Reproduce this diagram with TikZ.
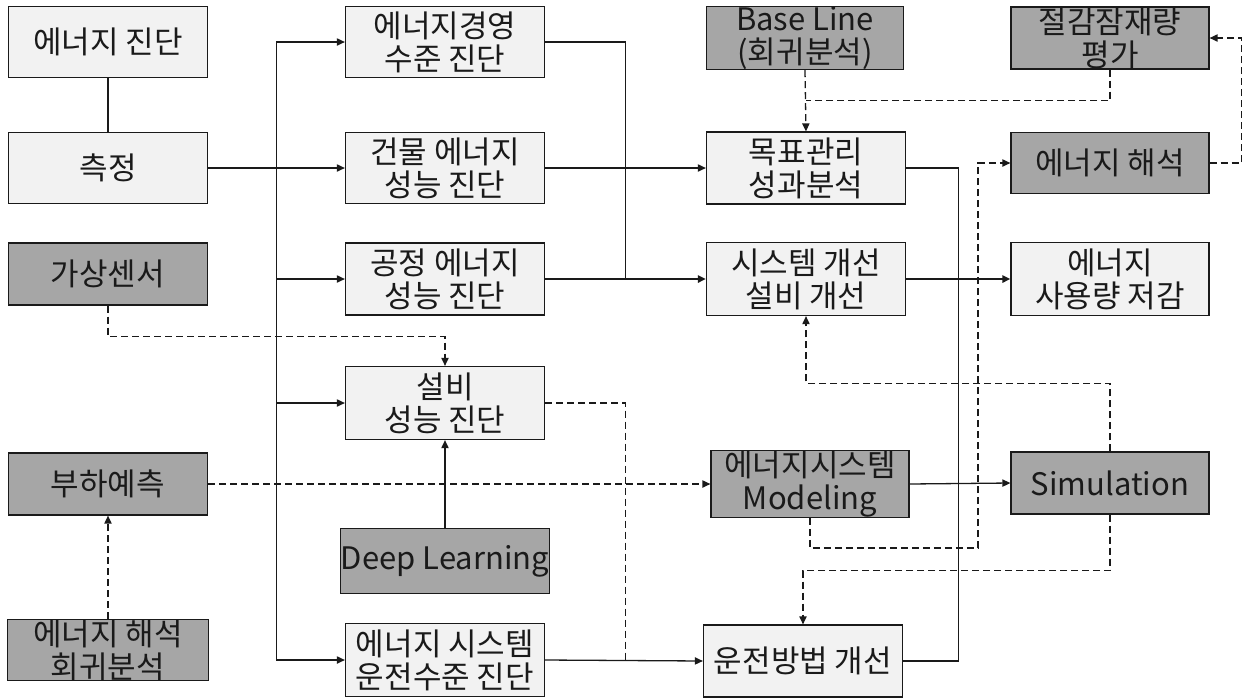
\documentclass[tikz,border=0pt]{standalone}
\usepackage{fontspec}
\setmainfont{Noto Sans CJK KR}
\usepackage{tikz}
\usetikzlibrary{arrows.meta,calc}

\definecolor{boxlight}{HTML}{F2F2F2}
\definecolor{boxdark}{HTML}{A6A6A6}
\definecolor{ink}{HTML}{1A1A1A}

\begin{document}
\begin{tikzpicture}[
  x=0.5pt, y=-0.5pt,
  font=\fontsize{15.5}{16.5}\selectfont, text=ink,
  >={Triangle[length=4pt,width=3.6pt]},
  box/.style={draw=ink, line width=0.6pt, inner sep=0pt, align=center,
              minimum width=99.5pt, minimum height=35.5pt},
  lbox/.style={box, fill=boxlight},
  dbox/.style={box, fill=boxdark},
  line/.style={draw=ink, line width=0.65pt},
  arr/.style={line, ->},
  tarr/.style={draw=ink, line width=1.3pt, ->},
  dline/.style={line, dash pattern=on 3.5pt off 2pt},
  darr/.style={dline, ->},
]
\useasboundingbox (0,0) rectangle (1250,698);

% left column
\node[lbox] (diag)  at (108,42)  {에너지 진단};
\node[lbox] (meas)  at (108,168) {측정};
\node[dbox, minimum height=31pt] (vsen) at (108,274) {가상센서};
\node[dbox, minimum height=31pt] (load) at (108,484) {부하예측};
\node[dbox, minimum height=26.5pt, minimum width=100.5pt] (regr) at (108,650) {에너지 해석\\회귀분석};

% diagnosis column
\node[lbox] (mgmt)  at (445,42)  {에너지경영\\수준 진단};
\node[lbox] (bldg)  at (445,168) {건물 에너지\\성능 진단};
\node[lbox, minimum height=36pt] (proc)  at (445,279) {공정 에너지\\성능 진단};
\node[lbox, minimum height=36.5pt] (equip) at (445,403) {설비\\성능 진단};
\node[dbox, minimum height=32.5pt] (deep) at (445,561) {Deep Learning};
\node[lbox, minimum height=36.5pt] (oper)  at (445,660) {에너지 시스템\\운전수준 진단};

% improvement column
\node[dbox, minimum height=31pt, minimum width=98.5pt] (base) at (805,38) {Base Line\\(회귀분석)};
\node[lbox, minimum height=36pt] (goal)   at (806,168) {목표관리\\성과분석};
\node[lbox, minimum height=36.5pt] (sysimp) at (806,279) {시스템 개선\\설비 개선};
\node[dbox, minimum height=31pt, minimum width=99pt] (model) at (810,484) {에너지시스템\\Modeling};
\node[lbox, minimum height=36pt] (runimp) at (803,661) {운전방법 개선};

% result column
\node[dbox, minimum height=31pt, minimum width=99pt] (save)   at (1110,38)  {절감잠재량\\평가};
\node[dbox, minimum height=30.5pt, minimum width=99pt] (anal) at (1110,163) {에너지 해석};
\node[lbox, minimum height=36.5pt, minimum width=99pt] (reduce) at (1110,279) {에너지\\사용량 저감};
\node[dbox, minimum height=31pt, minimum width=99pt] (sim)    at (1110,483) {Simulation};

% junctions
\coordinate (tr) at ($(meas.east)!0.5!(bldg.west)$);
\coordinate (j1) at ($(proc.east)!0.5!(sysimp.west)$);
\coordinate (j2) at ($(sysimp.east)!0.5!(reduce.west)$);
\coordinate (k1) at (978,548);

% solid flow
\draw[line] (diag.south) -- (meas.north);
\draw[arr] (meas.east) -- (bldg.west);
\draw[arr] (tr) |- (mgmt.west);
\draw[arr] (tr) |- (proc.west);
\draw[arr] (tr) |- (equip.west);
\draw[arr] (tr) |- (oper.west);
\draw[line] (mgmt.east) -| (j1);
\draw[line] (proc.east) -- (j1);
\draw[tarr] (j1) -- (sysimp.west);
\draw[arr] (bldg.east) -- (goal.west);
\draw[line] (sysimp.east) -- (j2);
\draw[tarr] (j2) -- (reduce.west);
\draw[line] (goal.east) -| (j2 |- runimp.east) -- (runimp.east);
\draw[arr] (deep.north) -- (equip.south);
\draw[arr] (oper.east) -- (runimp.west);
\draw[arr] (model.east) -- (sim.west);

% dashed flow
\draw[darr] (base.south) -- (goal.north);
\draw[dline] (save.south) |- ($(base.south)!0.5!(goal.north)$);
\draw[darr] (anal.east) -- ++(32,0) |- (save.east);
\draw[darr] (model.south) |- (k1) |- (anal.west);
\draw[darr] (sim.north) -- ++(0,-68) -| (sysimp.south);
\draw[darr] (sim.south) -- ++(0,56) -| (runimp.north);
\draw[darr] (vsen.south) -- ++(0,31) -| (equip.north);
\draw[darr] (load.east) -- (model.west);
\draw[darr] (regr.north) -- (load.south);
\draw[dline] (equip.east) -| (j1 |- oper.east);
\end{tikzpicture}
\end{document}
